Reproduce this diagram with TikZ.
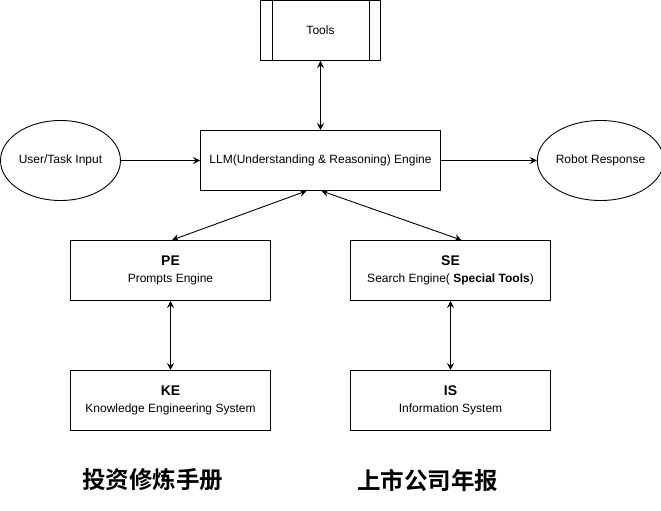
\documentclass[tikz,border=0pt]{standalone}
\usepackage{fontspec}
\setmainfont{Liberation Sans}
\newfontfamily\cjk{Noto Sans CJK SC}[BoldFont={* Bold}]
\usetikzlibrary{arrows.meta,shapes.geometric}
\begin{document}
\begin{tikzpicture}[x=1pt,y=-1pt,
  box/.style={draw, line width=0.9pt, minimum width=200pt, minimum height=60pt, inner sep=0pt, align=center, font=\fontsize{12}{17}\selectfont},
  oval/.style={draw, ellipse, line width=0.9pt, minimum width=120pt, minimum height=80pt, inner sep=0pt, font=\fontsize{12}{14}\selectfont},
  conn/.style={line width=0.9pt, {Stealth[length=7pt,width=7pt,inset=2.5pt]}-{Stealth[length=7pt,width=7pt,inset=2.5pt]}},
  oneway/.style={line width=0.9pt, -{Stealth[length=7pt,width=7pt,inset=2.5pt]}},
  cjklabel/.style={font=\cjk\bfseries\fontsize{23.5}{26}\selectfont, inner sep=0pt}
]
\useasboundingbox (0,0) rectangle (661,511);
% Tools (process shape)
\node[draw, line width=0.9pt, minimum width=120pt, minimum height=60pt, inner sep=0pt, font=\fontsize{12}{14}\selectfont] (tools) at (320.5,30.5) {Tools};
\draw[line width=0.9pt] ([xshift=12pt]tools.north west) -- ([xshift=12pt]tools.south west);
\draw[line width=0.9pt] ([xshift=-12pt]tools.north east) -- ([xshift=-12pt]tools.south east);
% LLM
\node[box, minimum width=240pt] (llm) at (320.5,160.5) {LLM(Understanding \& Reasoning) Engine};
% ellipses
\node[oval] (user) at (60.5,160.5) {User/Task Input};
\node[oval] (robot) at (600.5,160.5) {Robot Response};
% lower boxes
\node[box] (pe) at (170.5,270.5) {{\bfseries\fontsize{14}{16}\selectfont PE}\\Prompts Engine};
\node[box] (se) at (450.5,270.5) {{\bfseries\fontsize{14}{16}\selectfont SE}\\Search Engine( \textbf{Special Tools})};
\node[box] (ke) at (170.5,400.5) {{\bfseries\fontsize{14}{16}\selectfont KE}\\Knowledge Engineering System};
\node[box] (is) at (450.5,400.5) {{\bfseries\fontsize{14}{16}\selectfont IS}\\Information System};
% Chinese labels
\node[cjklabel] (l1) at (152.5,480) {投资修炼手册};
\node[cjklabel] (l2) at (427.5,480) {上市公司年报};
% connectors
\draw[conn] (tools.south) -- (llm.north);
\draw[oneway] (user.east) -- (llm.west);
\draw[oneway] (llm.east) -- (robot.west);
\draw[conn] ([xshift=-14pt]llm.south) -- ([xshift=1.5pt]pe.north);
\draw[conn] ([xshift=1pt]llm.south) -- ([xshift=11pt]se.north);
\draw[conn] (pe.south) -- (ke.north);
\draw[conn] (se.south) -- (is.north);
\end{tikzpicture}
\end{document}
